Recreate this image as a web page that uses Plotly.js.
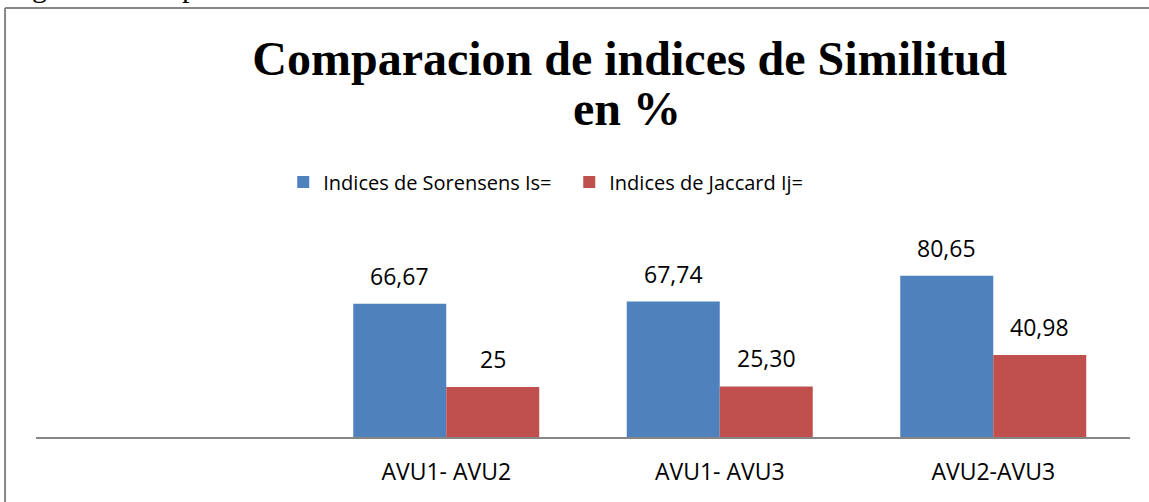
<!DOCTYPE html>
<html><head><meta charset="utf-8">
<script src="https://cdn.plot.ly/plotly-3.0.1.min.js"></script>
<style>html,body{margin:0;padding:0;background:#fff}#chart{width:1149px;height:502px}</style>
</head><body><div id="chart"></div>
<script>
// ---- data ----
const categories = ['', 'AVU1- AVU2', 'AVU1- AVU3', 'AVU2-AVU3'];
const pairs = ['AVU1- AVU2', 'AVU1- AVU3', 'AVU2-AVU3'];
const sorensen = [66.67, 67.74, 80.65];
const jaccard = [25, 25.30, 40.98];
const sorensenLabels = ['66,67', '67,74', '80,65'];
const jaccardLabels = ['25', '25,30', '40,98'];
const seriesNames = ['Indices de Sorensens Is=', 'Indices de Jaccard Ij='];
const titleLine1 = 'Comparacion de indices de Similitud';
const titleLine2 = 'en %';
const captionText = 'Figura 1: Comparacion de indices de Similitud';

// ---- build ----
const xPos = pairs.map(p => categories.indexOf(p));
const labelFont = {family: '"Open Sans", sans-serif', size: 23, color: '#000'};
const titleFont = {family: '"Liberation Serif", "Times New Roman", serif', size: 48, color: '#000', weight: 'bold'};

const traces = [
  {type: 'bar', name: seriesNames[0], x: xPos, y: sorensen,
   marker: {color: '#4F81BD'}, hoverinfo: 'skip'},
  {type: 'bar', name: seriesNames[1], x: xPos, y: jaccard,
   marker: {color: '#C0504D'}, hoverinfo: 'skip'}
];

const annotations = [];
xPos.forEach((x, i) => {
  annotations.push({x: x, y: sorensen[i], xref: 'x', yref: 'y', text: sorensenLabels[i],
    showarrow: false, xshift: -46.5, yanchor: 'bottom', yshift: 10, font: labelFont});
  annotations.push({x: x, y: jaccard[i], xref: 'x', yref: 'y', text: jaccardLabels[i],
    showarrow: false, xshift: 46.5, yanchor: 'bottom', yshift: 10, font: labelFont});
});
annotations.push({xref: 'paper', yref: 'paper', x: -0.0283, y: 2.16, xanchor: 'left', yanchor: 'bottom',
  text: captionText, showarrow: false,
  font: {family: '"Liberation Serif", "Times New Roman", serif', size: 30, color: '#000'}});
annotations.push({xref: 'paper', yref: 'paper', x: 0.54, y: 1.50, xanchor: 'center', yanchor: 'bottom',
  text: titleLine2, showarrow: false, font: titleFont});

const layout = {
  width: 1149, height: 502,
  margin: {l: 36, r: 19, t: 237, b: 65, pad: 0},
  paper_bgcolor: '#fff', plot_bgcolor: '#fff',
  title: {text: titleLine1, x: 0.548, xref: 'container', xanchor: 'center',
    y: 0.917, yref: 'container', yanchor: 'top', font: titleFont},
  barmode: 'group', bargap: 0.32, bargroupgap: 0,
  xaxis: {range: [-0.5, categories.length - 0.5], tickvals: categories.map((c, i) => i), ticktext: categories,
    showline: true, linecolor: '#868686', linewidth: 2, ticks: '', showgrid: false, zeroline: false,
    tickfont: labelFont, ticklabelstandoff: 13, fixedrange: true},
  yaxis: {range: [0, 100], visible: false, fixedrange: true},
  showlegend: true,
  legend: {orientation: 'h', x: 0.226, xanchor: 'left', y: 1.275, yanchor: 'middle',
    entrywidth: 241, entrywidthmode: 'pixels',
    font: {family: '"Open Sans", sans-serif', size: 20, color: '#000'}, bgcolor: 'rgba(0,0,0,0)'},
  annotations: annotations,
  shapes: [
    {type: 'line', xref: 'paper', yref: 'paper', x0: -0.0283, x1: -0.0283, y0: 2.145, y1: -0.5,
      line: {color: '#868686', width: 2}},
    {type: 'line', xref: 'paper', yref: 'paper', x0: -0.0283, x1: 1.05, y0: 2.145, y1: 2.145,
      line: {color: '#868686', width: 2}}
  ]
};

Plotly.newPlot('chart', traces, layout, {displayModeBar: false, staticPlot: true});
</script>
</body></html>
